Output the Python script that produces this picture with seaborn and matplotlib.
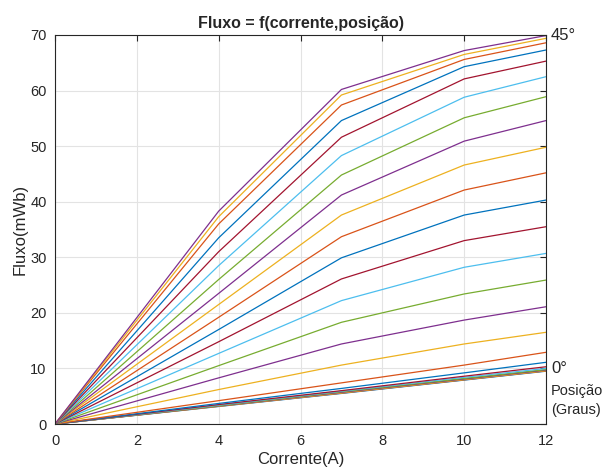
import numpy as np
import pandas as pd
import matplotlib
matplotlib.use('Agg')
import matplotlib.pyplot as plt
import seaborn as sns

# dados: corrente (A) e fluxo (mWb) para cada posição (0° em baixo, 45° em cima)
corrente = [0, 4, 7, 10, 12]

fluxo_mwb = [
    [0, 3.15, 5.50, 7.90, 9.50],
    [0, 3.20, 5.55, 7.95, 9.55],
    [0, 3.20, 5.60, 8.00, 9.60],
    [0, 3.25, 5.70, 8.10, 9.70],
    [0, 3.30, 5.80, 8.20, 9.80],
    [0, 3.40, 5.90, 8.40, 10.0],
    [0, 3.50, 6.00, 8.60, 10.3],
    [0, 3.70, 6.40, 9.20, 11.1],
    [0, 4.20, 7.40, 10.6, 12.9],
    [0, 6.20, 10.6, 14.4, 16.5],
    [0, 8.30, 14.4, 18.7, 21.1],
    [0, 10.5, 18.3, 23.4, 25.9],
    [0, 12.7, 22.2, 28.2, 30.7],
    [0, 14.8, 26.1, 33.0, 35.5],
    [0, 17.0, 29.9, 37.6, 40.3],
    [0, 19.2, 33.7, 42.1, 45.2],
    [0, 21.5, 37.6, 46.6, 49.8],
    [0, 23.5, 41.2, 50.9, 54.6],
    [0, 26.0, 44.8, 55.1, 58.9],
    [0, 28.5, 48.3, 58.8, 62.5],
    [0, 31.0, 51.6, 62.1, 65.3],
    [0, 33.5, 54.6, 64.3, 67.3],
    [0, 36.0, 57.4, 65.6, 68.6],
    [0, 37.3, 59.2, 66.5, 69.4],
    [0, 38.3, 60.2, 67.2, 69.9],
]
curva = list(range(len(fluxo_mwb)))

# cores padrão do MATLAB
cores_matlab = ['#0072BD', '#D95319', '#EDB120', '#7E2F8E', '#77AC30', '#4DBEEE', '#A2142F']

linhas = []
for c, valores in zip(curva, fluxo_mwb):
    for i, f in zip(corrente, valores):
        linhas.append({'curva': c, 'corrente': i, 'fluxo': f})
df = pd.DataFrame(linhas)

sns.set_style('whitegrid')
plt.rcParams['font.family'] = ['Liberation Sans', 'DejaVu Sans']

fig = plt.figure(figsize=(6.05, 4.68), dpi=100)
ax = fig.add_axes([55 / 605, 1 - 424 / 468, (546 - 55) / 605, (424 - 35) / 468])

paleta = [cores_matlab[c % 7] for c in curva]
sns.lineplot(data=df, x='corrente', y='fluxo', hue='curva', palette=paleta,
             legend=False, sort=False, linewidth=0.9, ax=ax)

ax.set_xlim(0, 12)
ax.set_ylim(0, 70)
ax.set_xticks(range(0, 13, 2))
ax.set_yticks(range(0, 71, 10))
ax.grid(True, color='#e3e3e3', linewidth=0.8)
ax.tick_params(direction='in', length=4, width=0.8, colors='#262626',
               labelsize=10.5, top=True, right=True, labelcolor='#262626')
ax.tick_params(axis='x', pad=7)
ax.tick_params(axis='y', pad=6)
for s in ax.spines.values():
    s.set_color('#262626')
    s.set_linewidth(0.8)
    s.set_visible(True)

ax.set_title('Fluxo = f(corrente,posição)', fontsize=11.5, fontweight='bold', pad=5)
ax.set_xlabel('Corrente(A)', fontsize=12, color='#262626', labelpad=3)
ax.set_ylabel('Fluxo(mWb)', fontsize=12, color='#262626', labelpad=2)

ax.text(12.12, 70, '45°', fontsize=12, va='center', ha='left', clip_on=False)
ax.text(12.12, 10.0, '0°', fontsize=12, va='center', ha='left', clip_on=False)
ax.text(12.12, 5.9, 'Posição', fontsize=10.5, va='center', ha='left', clip_on=False)
ax.text(12.12, 2.6, '(Graus)', fontsize=10.5, va='center', ha='left', clip_on=False)

fig.savefig('out.png', dpi=100)
